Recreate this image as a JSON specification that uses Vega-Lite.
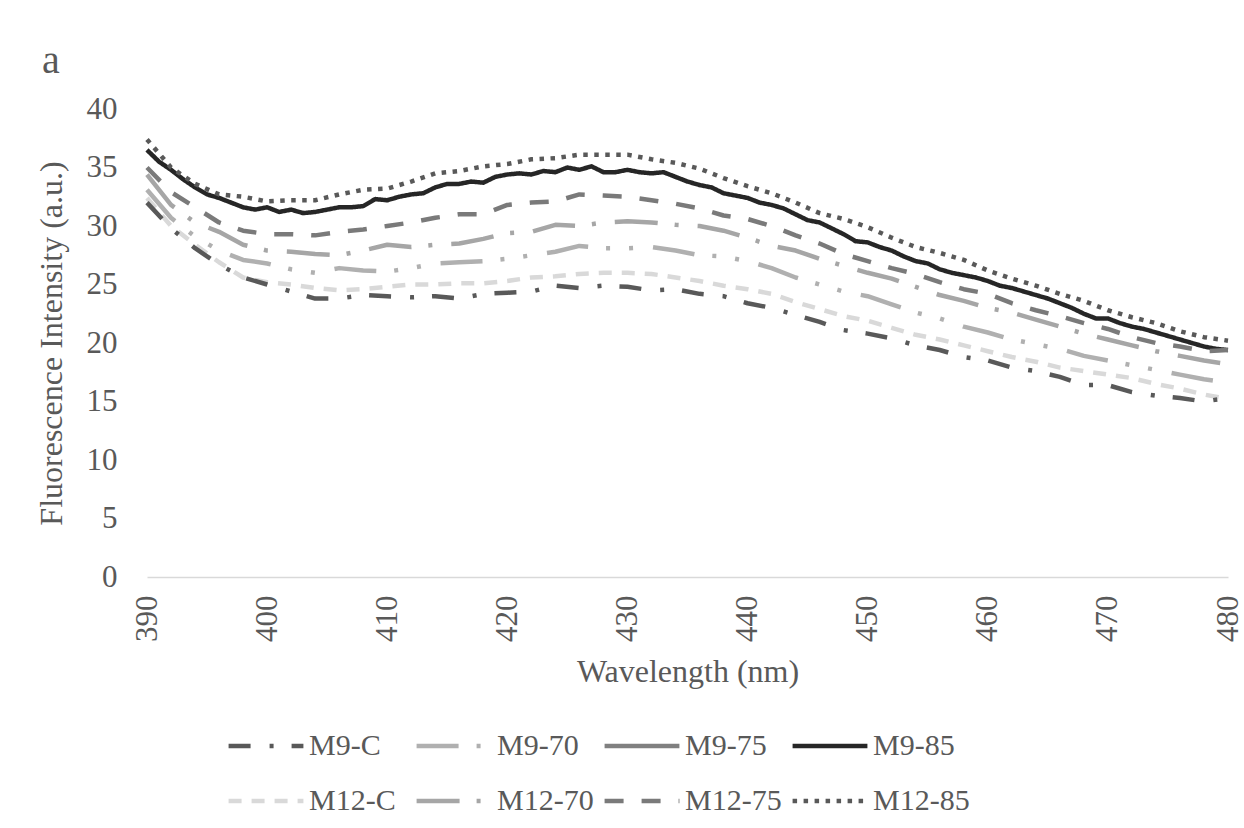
{
  "$schema": "https://vega.github.io/schema/vega-lite/v6.json",
  "autosize": {"type": "none"},
  "width": 1081,
  "height": 468,
  "padding": {"left": 147, "top": 109, "right": 16, "bottom": 251},
  "background": "white",
  "title": {"text": "a", "anchor": "start", "frame": "group", "dx": -105, "dy": 62, "offset": 42, "baseline": "alphabetic", "font": "Liberation Serif", "fontSize": 40, "fontWeight": "normal", "color": "#595959"},
  "config": {"view": {"stroke": null}, "font": "Liberation Serif"},
  "data": {"values": [
    {"s":"M9-85","w":390,"v":36.5},{"s":"M9-85","w":391,"v":35.5},{"s":"M9-85","w":392,"v":34.8},{"s":"M9-85","w":393,"v":34.0},{"s":"M9-85","w":394,"v":33.3},{"s":"M9-85","w":395,"v":32.7},{"s":"M9-85","w":396,"v":32.4},{"s":"M9-85","w":397,"v":32.0},{"s":"M9-85","w":398,"v":31.6},{"s":"M9-85","w":399,"v":31.4},{"s":"M9-85","w":400,"v":31.6},{"s":"M9-85","w":401,"v":31.2},{"s":"M9-85","w":402,"v":31.4},{"s":"M9-85","w":403,"v":31.1},{"s":"M9-85","w":404,"v":31.2},{"s":"M9-85","w":405,"v":31.4},{"s":"M9-85","w":406,"v":31.6},{"s":"M9-85","w":407,"v":31.6},{"s":"M9-85","w":408,"v":31.7},{"s":"M9-85","w":409,"v":32.3},{"s":"M9-85","w":410,"v":32.2},{"s":"M9-85","w":411,"v":32.5},{"s":"M9-85","w":412,"v":32.7},{"s":"M9-85","w":413,"v":32.8},{"s":"M9-85","w":414,"v":33.3},{"s":"M9-85","w":415,"v":33.6},{"s":"M9-85","w":416,"v":33.6},{"s":"M9-85","w":417,"v":33.8},{"s":"M9-85","w":418,"v":33.7},{"s":"M9-85","w":419,"v":34.2},{"s":"M9-85","w":420,"v":34.4},{"s":"M9-85","w":421,"v":34.5},{"s":"M9-85","w":422,"v":34.4},{"s":"M9-85","w":423,"v":34.7},{"s":"M9-85","w":424,"v":34.6},{"s":"M9-85","w":425,"v":35.0},{"s":"M9-85","w":426,"v":34.8},{"s":"M9-85","w":427,"v":35.1},{"s":"M9-85","w":428,"v":34.6},{"s":"M9-85","w":429,"v":34.6},{"s":"M9-85","w":430,"v":34.8},{"s":"M9-85","w":431,"v":34.6},{"s":"M9-85","w":432,"v":34.5},{"s":"M9-85","w":433,"v":34.6},{"s":"M9-85","w":434,"v":34.2},{"s":"M9-85","w":435,"v":33.8},{"s":"M9-85","w":436,"v":33.5},{"s":"M9-85","w":437,"v":33.3},{"s":"M9-85","w":438,"v":32.8},{"s":"M9-85","w":439,"v":32.6},{"s":"M9-85","w":440,"v":32.4},{"s":"M9-85","w":441,"v":32.0},{"s":"M9-85","w":442,"v":31.8},{"s":"M9-85","w":443,"v":31.5},{"s":"M9-85","w":444,"v":31.0},{"s":"M9-85","w":445,"v":30.5},{"s":"M9-85","w":446,"v":30.3},{"s":"M9-85","w":447,"v":29.8},{"s":"M9-85","w":448,"v":29.3},{"s":"M9-85","w":449,"v":28.7},{"s":"M9-85","w":450,"v":28.6},{"s":"M9-85","w":451,"v":28.2},{"s":"M9-85","w":452,"v":27.9},{"s":"M9-85","w":453,"v":27.4},{"s":"M9-85","w":454,"v":27.0},{"s":"M9-85","w":455,"v":26.8},{"s":"M9-85","w":456,"v":26.3},{"s":"M9-85","w":457,"v":26.0},{"s":"M9-85","w":458,"v":25.8},{"s":"M9-85","w":459,"v":25.6},{"s":"M9-85","w":460,"v":25.3},{"s":"M9-85","w":461,"v":24.9},{"s":"M9-85","w":462,"v":24.7},{"s":"M9-85","w":463,"v":24.4},{"s":"M9-85","w":464,"v":24.1},{"s":"M9-85","w":465,"v":23.8},{"s":"M9-85","w":466,"v":23.4},{"s":"M9-85","w":467,"v":23.0},{"s":"M9-85","w":468,"v":22.5},{"s":"M9-85","w":469,"v":22.1},{"s":"M9-85","w":470,"v":22.1},{"s":"M9-85","w":471,"v":21.7},{"s":"M9-85","w":472,"v":21.4},{"s":"M9-85","w":473,"v":21.2},{"s":"M9-85","w":474,"v":20.9},{"s":"M9-85","w":475,"v":20.6},{"s":"M9-85","w":476,"v":20.3},{"s":"M9-85","w":477,"v":20.0},{"s":"M9-85","w":478,"v":19.7},{"s":"M9-85","w":479,"v":19.5},{"s":"M9-85","w":480,"v":19.4},

    {"s":"M12-85","w":390,"v":37.4},{"s":"M12-85","w":392,"v":35.0},{"s":"M12-85","w":394,"v":33.6},{"s":"M12-85","w":396,"v":32.7},{"s":"M12-85","w":398,"v":32.5},{"s":"M12-85","w":400,"v":32.1},{"s":"M12-85","w":402,"v":32.2},{"s":"M12-85","w":404,"v":32.2},{"s":"M12-85","w":406,"v":32.7},{"s":"M12-85","w":408,"v":33.1},{"s":"M12-85","w":410,"v":33.2},{"s":"M12-85","w":412,"v":33.8},{"s":"M12-85","w":414,"v":34.5},{"s":"M12-85","w":416,"v":34.7},{"s":"M12-85","w":418,"v":35.1},{"s":"M12-85","w":420,"v":35.3},{"s":"M12-85","w":422,"v":35.7},{"s":"M12-85","w":424,"v":35.8},{"s":"M12-85","w":426,"v":36.1},{"s":"M12-85","w":428,"v":36.1},{"s":"M12-85","w":430,"v":36.1},{"s":"M12-85","w":432,"v":35.7},{"s":"M12-85","w":434,"v":35.4},{"s":"M12-85","w":436,"v":34.9},{"s":"M12-85","w":438,"v":34.1},{"s":"M12-85","w":440,"v":33.4},{"s":"M12-85","w":442,"v":32.8},{"s":"M12-85","w":444,"v":32.0},{"s":"M12-85","w":446,"v":31.1},{"s":"M12-85","w":448,"v":30.6},{"s":"M12-85","w":450,"v":29.9},{"s":"M12-85","w":452,"v":29.0},{"s":"M12-85","w":454,"v":28.2},{"s":"M12-85","w":456,"v":27.7},{"s":"M12-85","w":458,"v":27.1},{"s":"M12-85","w":460,"v":26.2},{"s":"M12-85","w":462,"v":25.5},{"s":"M12-85","w":464,"v":24.9},{"s":"M12-85","w":466,"v":24.2},{"s":"M12-85","w":468,"v":23.6},{"s":"M12-85","w":470,"v":22.8},{"s":"M12-85","w":472,"v":22.2},{"s":"M12-85","w":474,"v":21.7},{"s":"M12-85","w":476,"v":21.0},{"s":"M12-85","w":478,"v":20.5},{"s":"M12-85","w":480,"v":20.2},

    {"s":"M12-75","w":390,"v":35.0},{"s":"M12-75","w":392,"v":32.9},{"s":"M12-75","w":394,"v":31.6},{"s":"M12-75","w":396,"v":30.3},{"s":"M12-75","w":398,"v":29.6},{"s":"M12-75","w":400,"v":29.3},{"s":"M12-75","w":402,"v":29.3},{"s":"M12-75","w":404,"v":29.2},{"s":"M12-75","w":406,"v":29.5},{"s":"M12-75","w":408,"v":29.7},{"s":"M12-75","w":410,"v":30.0},{"s":"M12-75","w":412,"v":30.3},{"s":"M12-75","w":414,"v":30.7},{"s":"M12-75","w":416,"v":31.0},{"s":"M12-75","w":418,"v":31.0},{"s":"M12-75","w":420,"v":31.8},{"s":"M12-75","w":422,"v":32.0},{"s":"M12-75","w":424,"v":32.1},{"s":"M12-75","w":426,"v":32.7},{"s":"M12-75","w":428,"v":32.6},{"s":"M12-75","w":430,"v":32.5},{"s":"M12-75","w":432,"v":32.2},{"s":"M12-75","w":434,"v":31.9},{"s":"M12-75","w":436,"v":31.5},{"s":"M12-75","w":438,"v":30.9},{"s":"M12-75","w":440,"v":30.6},{"s":"M12-75","w":442,"v":30.0},{"s":"M12-75","w":444,"v":29.2},{"s":"M12-75","w":446,"v":28.5},{"s":"M12-75","w":448,"v":27.6},{"s":"M12-75","w":450,"v":27.0},{"s":"M12-75","w":452,"v":26.4},{"s":"M12-75","w":454,"v":25.9},{"s":"M12-75","w":456,"v":25.2},{"s":"M12-75","w":458,"v":24.6},{"s":"M12-75","w":460,"v":24.2},{"s":"M12-75","w":462,"v":23.4},{"s":"M12-75","w":464,"v":22.8},{"s":"M12-75","w":466,"v":22.3},{"s":"M12-75","w":468,"v":21.7},{"s":"M12-75","w":470,"v":21.2},{"s":"M12-75","w":472,"v":20.5},{"s":"M12-75","w":474,"v":20.0},{"s":"M12-75","w":476,"v":19.7},{"s":"M12-75","w":478,"v":19.3},{"s":"M12-75","w":480,"v":19.4},

    {"s":"M12-70","w":390,"v":34.4},{"s":"M12-70","w":392,"v":31.8},{"s":"M12-70","w":394,"v":30.3},{"s":"M12-70","w":396,"v":29.5},{"s":"M12-70","w":398,"v":28.4},{"s":"M12-70","w":400,"v":27.9},{"s":"M12-70","w":402,"v":27.8},{"s":"M12-70","w":404,"v":27.6},{"s":"M12-70","w":406,"v":27.5},{"s":"M12-70","w":408,"v":27.9},{"s":"M12-70","w":410,"v":28.4},{"s":"M12-70","w":412,"v":28.2},{"s":"M12-70","w":414,"v":28.4},{"s":"M12-70","w":416,"v":28.5},{"s":"M12-70","w":418,"v":28.9},{"s":"M12-70","w":420,"v":29.4},{"s":"M12-70","w":422,"v":29.5},{"s":"M12-70","w":424,"v":30.1},{"s":"M12-70","w":426,"v":30.0},{"s":"M12-70","w":428,"v":30.3},{"s":"M12-70","w":430,"v":30.4},{"s":"M12-70","w":432,"v":30.3},{"s":"M12-70","w":434,"v":30.1},{"s":"M12-70","w":436,"v":30.0},{"s":"M12-70","w":438,"v":29.6},{"s":"M12-70","w":440,"v":29.0},{"s":"M12-70","w":442,"v":28.3},{"s":"M12-70","w":444,"v":27.9},{"s":"M12-70","w":446,"v":27.2},{"s":"M12-70","w":448,"v":26.6},{"s":"M12-70","w":450,"v":26.0},{"s":"M12-70","w":452,"v":25.5},{"s":"M12-70","w":454,"v":24.8},{"s":"M12-70","w":456,"v":24.1},{"s":"M12-70","w":458,"v":23.6},{"s":"M12-70","w":460,"v":23.0},{"s":"M12-70","w":462,"v":22.6},{"s":"M12-70","w":464,"v":22.0},{"s":"M12-70","w":466,"v":21.4},{"s":"M12-70","w":468,"v":20.8},{"s":"M12-70","w":470,"v":20.3},{"s":"M12-70","w":472,"v":19.8},{"s":"M12-70","w":474,"v":19.3},{"s":"M12-70","w":476,"v":18.9},{"s":"M12-70","w":478,"v":18.5},{"s":"M12-70","w":480,"v":18.2},

    {"s":"M9-70","w":390,"v":33.1},{"s":"M9-70","w":392,"v":30.7},{"s":"M9-70","w":394,"v":29.1},{"s":"M9-70","w":396,"v":27.9},{"s":"M9-70","w":398,"v":27.1},{"s":"M9-70","w":400,"v":26.8},{"s":"M9-70","w":402,"v":26.3},{"s":"M9-70","w":404,"v":26.0},{"s":"M9-70","w":406,"v":26.4},{"s":"M9-70","w":408,"v":26.2},{"s":"M9-70","w":410,"v":26.1},{"s":"M9-70","w":412,"v":26.4},{"s":"M9-70","w":414,"v":26.8},{"s":"M9-70","w":416,"v":26.9},{"s":"M9-70","w":418,"v":27.0},{"s":"M9-70","w":420,"v":27.2},{"s":"M9-70","w":422,"v":27.5},{"s":"M9-70","w":424,"v":27.8},{"s":"M9-70","w":426,"v":28.3},{"s":"M9-70","w":428,"v":28.1},{"s":"M9-70","w":430,"v":28.1},{"s":"M9-70","w":432,"v":28.2},{"s":"M9-70","w":434,"v":27.9},{"s":"M9-70","w":436,"v":27.5},{"s":"M9-70","w":438,"v":27.4},{"s":"M9-70","w":440,"v":27.0},{"s":"M9-70","w":442,"v":26.4},{"s":"M9-70","w":444,"v":25.6},{"s":"M9-70","w":446,"v":25.0},{"s":"M9-70","w":448,"v":24.4},{"s":"M9-70","w":450,"v":24.0},{"s":"M9-70","w":452,"v":23.3},{"s":"M9-70","w":454,"v":22.6},{"s":"M9-70","w":456,"v":22.1},{"s":"M9-70","w":458,"v":21.4},{"s":"M9-70","w":460,"v":20.9},{"s":"M9-70","w":462,"v":20.3},{"s":"M9-70","w":464,"v":19.9},{"s":"M9-70","w":466,"v":19.5},{"s":"M9-70","w":468,"v":18.9},{"s":"M9-70","w":470,"v":18.5},{"s":"M9-70","w":472,"v":18.1},{"s":"M9-70","w":474,"v":17.7},{"s":"M9-70","w":476,"v":17.3},{"s":"M9-70","w":478,"v":16.9},{"s":"M9-70","w":480,"v":16.6},

    {"s":"M12-C","w":390,"v":32.4},{"s":"M12-C","w":392,"v":30.0},{"s":"M12-C","w":394,"v":28.4},{"s":"M12-C","w":396,"v":26.9},{"s":"M12-C","w":398,"v":25.6},{"s":"M12-C","w":400,"v":25.2},{"s":"M12-C","w":402,"v":25.0},{"s":"M12-C","w":404,"v":24.7},{"s":"M12-C","w":406,"v":24.5},{"s":"M12-C","w":408,"v":24.6},{"s":"M12-C","w":410,"v":24.8},{"s":"M12-C","w":412,"v":25.0},{"s":"M12-C","w":414,"v":25.0},{"s":"M12-C","w":416,"v":25.1},{"s":"M12-C","w":418,"v":25.1},{"s":"M12-C","w":420,"v":25.3},{"s":"M12-C","w":422,"v":25.6},{"s":"M12-C","w":424,"v":25.7},{"s":"M12-C","w":426,"v":25.9},{"s":"M12-C","w":428,"v":26.0},{"s":"M12-C","w":430,"v":26.0},{"s":"M12-C","w":432,"v":25.9},{"s":"M12-C","w":434,"v":25.6},{"s":"M12-C","w":436,"v":25.3},{"s":"M12-C","w":438,"v":24.9},{"s":"M12-C","w":440,"v":24.6},{"s":"M12-C","w":442,"v":24.2},{"s":"M12-C","w":444,"v":23.5},{"s":"M12-C","w":446,"v":22.9},{"s":"M12-C","w":448,"v":22.3},{"s":"M12-C","w":450,"v":21.9},{"s":"M12-C","w":452,"v":21.3},{"s":"M12-C","w":454,"v":20.7},{"s":"M12-C","w":456,"v":20.3},{"s":"M12-C","w":458,"v":19.8},{"s":"M12-C","w":460,"v":19.3},{"s":"M12-C","w":462,"v":18.8},{"s":"M12-C","w":464,"v":18.4},{"s":"M12-C","w":466,"v":17.9},{"s":"M12-C","w":468,"v":17.6},{"s":"M12-C","w":470,"v":17.3},{"s":"M12-C","w":472,"v":17.0},{"s":"M12-C","w":474,"v":16.5},{"s":"M12-C","w":476,"v":16.1},{"s":"M12-C","w":478,"v":15.6},{"s":"M12-C","w":480,"v":15.2},

    {"s":"M9-C","w":390,"v":32.0},{"s":"M9-C","w":392,"v":29.8},{"s":"M9-C","w":394,"v":28.1},{"s":"M9-C","w":396,"v":26.7},{"s":"M9-C","w":398,"v":25.6},{"s":"M9-C","w":400,"v":25.0},{"s":"M9-C","w":402,"v":24.4},{"s":"M9-C","w":404,"v":23.8},{"s":"M9-C","w":406,"v":23.8},{"s":"M9-C","w":408,"v":24.1},{"s":"M9-C","w":410,"v":24.0},{"s":"M9-C","w":412,"v":23.9},{"s":"M9-C","w":414,"v":24.0},{"s":"M9-C","w":416,"v":23.8},{"s":"M9-C","w":418,"v":24.2},{"s":"M9-C","w":420,"v":24.3},{"s":"M9-C","w":422,"v":24.4},{"s":"M9-C","w":424,"v":24.9},{"s":"M9-C","w":426,"v":24.7},{"s":"M9-C","w":428,"v":24.9},{"s":"M9-C","w":430,"v":24.8},{"s":"M9-C","w":432,"v":24.5},{"s":"M9-C","w":434,"v":24.6},{"s":"M9-C","w":436,"v":24.2},{"s":"M9-C","w":438,"v":24.0},{"s":"M9-C","w":440,"v":23.4},{"s":"M9-C","w":442,"v":23.0},{"s":"M9-C","w":444,"v":22.4},{"s":"M9-C","w":446,"v":21.8},{"s":"M9-C","w":448,"v":21.1},{"s":"M9-C","w":450,"v":20.8},{"s":"M9-C","w":452,"v":20.4},{"s":"M9-C","w":454,"v":19.8},{"s":"M9-C","w":456,"v":19.4},{"s":"M9-C","w":458,"v":18.8},{"s":"M9-C","w":460,"v":18.5},{"s":"M9-C","w":462,"v":17.9},{"s":"M9-C","w":464,"v":17.6},{"s":"M9-C","w":466,"v":17.1},{"s":"M9-C","w":468,"v":16.4},{"s":"M9-C","w":470,"v":16.4},{"s":"M9-C","w":472,"v":15.8},{"s":"M9-C","w":474,"v":15.5},{"s":"M9-C","w":476,"v":15.3},{"s":"M9-C","w":478,"v":15.0},{"s":"M9-C","w":480,"v":15.3}
  ]},
  "mark": {"type": "line", "strokeWidth": 4.5, "strokeJoin": "round"},
  "encoding": {
    "x": {"field": "w", "type": "quantitative", "scale": {"domain": [390, 480], "nice": false, "zero": false},
      "axis": {"title": "Wavelength (nm)", "values": [390,400,410,420,430,440,450,460,470,480], "grid": false, "ticks": false, "domainColor": "#d9d9d9", "domainWidth": 1.5,
        "labelAngle": -90, "labelAlign": "right", "labelBaseline": "middle", "labelPadding": 18, "labelFont": "Liberation Serif", "labelFontSize": 31, "labelColor": "#595959",
        "titleFont": "Liberation Serif", "titleFontSize": 32, "titleFontWeight": "normal", "titleColor": "#595959", "titleY": 104, "titleBaseline": "alphabetic"}},
    "y": {"field": "v", "type": "quantitative", "scale": {"domain": [0, 40], "nice": false},
      "axis": {"title": "Fluorescence Intensity (a.u.)", "values": [0,5,10,15,20,25,30,35,40], "grid": false, "ticks": false, "domain": false,
        "labelPadding": 30, "labelFont": "Liberation Serif", "labelFontSize": 31, "labelColor": "#595959",
        "titleFont": "Liberation Serif", "titleFontSize": 32, "titleFontWeight": "normal", "titleColor": "#595959", "titleX": -86, "titleY": 234, "titleAngle": -90, "titleBaseline": "alphabetic", "titleAlign": "center"}},
    "color": {"field": "s", "type": "nominal",
      "scale": {"domain": ["M9-C","M9-70","M9-75","M9-85","M12-C","M12-70","M12-75","M12-85"],
                "range": ["#595959","#b0b0b0","#808080","#262626","#d9d9d9","#a6a6a6","#7a7a7a","#595959"]},
      "legend": {"title": null, "orient": "none", "legendX": 79, "legendY": 597, "columns": 4, "direction": "horizontal",
        "symbolType": "stroke", "symbolSize": 5600, "symbolStrokeWidth": 4.5, "labelFont": "Liberation Serif", "labelFontSize": 30, "labelColor": "#595959",
        "labelOffset": 3, "columnPadding": 1, "rowPadding": 0, "gridAlign": "all"}},
    "strokeDash": {"field": "s", "type": "nominal",
      "scale": {"domain": ["M9-C","M9-70","M9-75","M9-85","M12-C","M12-70","M12-75","M12-85"],
                "range": [[22,19,4,18],[42,18,4,19,4,20],[1,0],[1,0],[13,10],[43,17,4,19],[19,18],[4.5,6.5]]},
      "legend": {"title": null, "orient": "none", "legendX": 79, "legendY": 597, "columns": 4, "direction": "horizontal",
        "symbolType": "stroke", "symbolSize": 5600, "symbolStrokeWidth": 4.5, "labelFont": "Liberation Serif", "labelFontSize": 30, "labelColor": "#595959",
        "labelOffset": 3, "columnPadding": 1, "rowPadding": 0, "gridAlign": "all"}}
  }
}
